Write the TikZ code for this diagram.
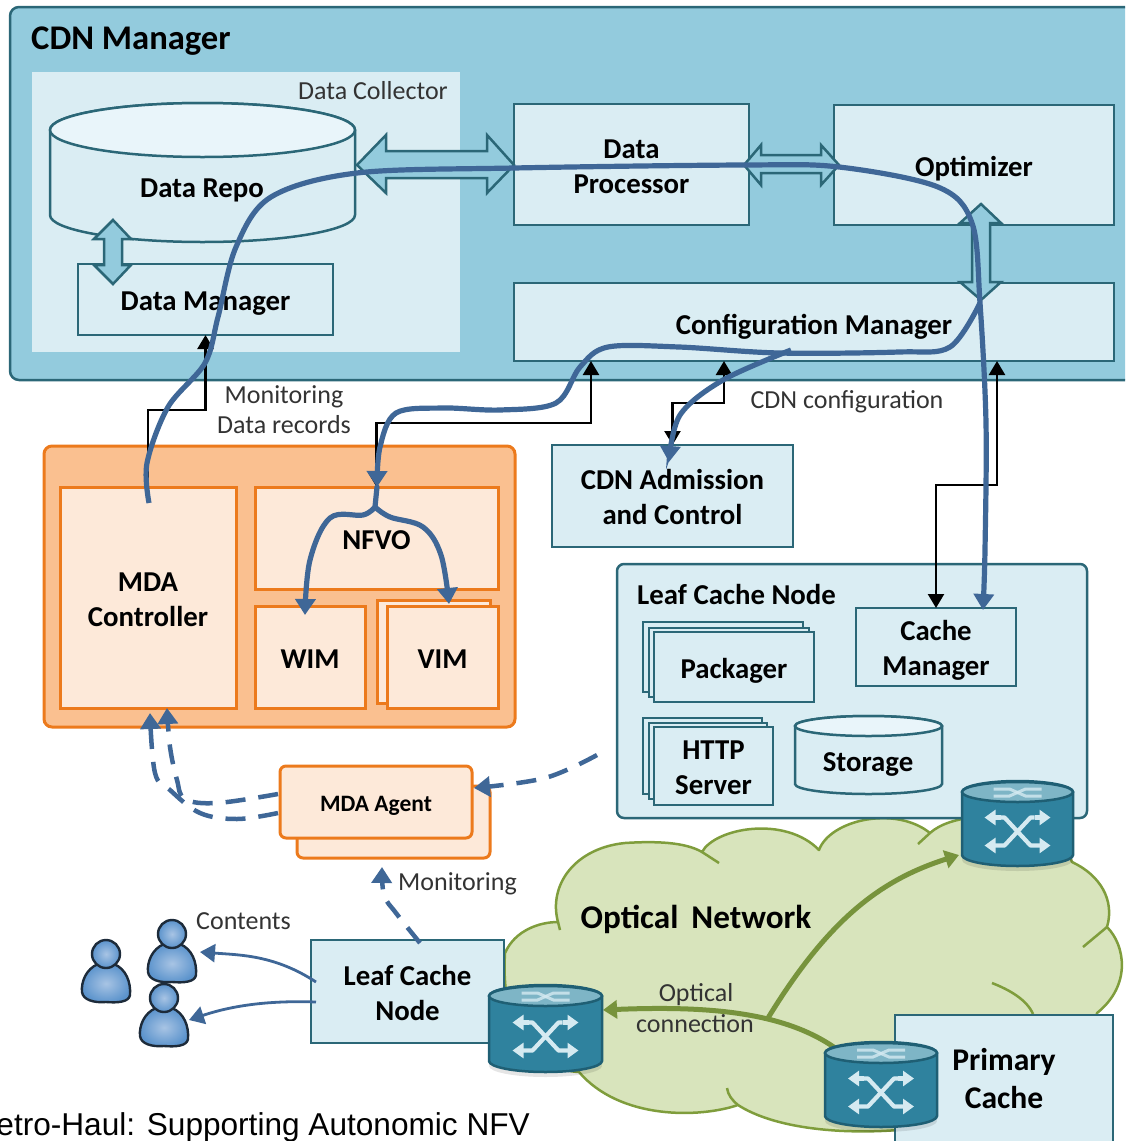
\documentclass[tikz,border=0pt]{standalone}
\usepackage{fontspec}
\setmainfont{Carlito}
\newfontfamily\capfont{Liberation Sans}
\usetikzlibrary{arrows.meta}
\definecolor{mgrbg}{HTML}{93CBDD}
\definecolor{paleblue}{HTML}{DAEDF3}
\definecolor{toppale}{HTML}{E9F5FA}
\definecolor{teal}{HTML}{2B6777}
\definecolor{orangeln}{HTML}{EC7A1C}
\definecolor{orangebg}{HTML}{FAC090}
\definecolor{orangepl}{HTML}{FDE9D9}
\definecolor{flow}{HTML}{3F6797}
\definecolor{cloudbg}{HTML}{D8E4BC}
\definecolor{cloudln}{HTML}{7F9D3C}
\definecolor{optline}{HTML}{77933C}
\definecolor{swbody}{HTML}{2F829E}
\definecolor{swtop}{HTML}{7EB5C6}
\definecolor{swline}{HTML}{1F5F74}
\definecolor{swglyph}{HTML}{D5EAF1}
\definecolor{labelgray}{HTML}{333333}
\definecolor{perin}{HTML}{A8C4E4}
\definecolor{perout}{HTML}{5B93CC}
\definecolor{perln}{HTML}{1D2B3A}
\newcommand{\dn}[1]{\raisebox{0pt}[\dimexpr\height+8pt\relax][\depth]{\begin{tabular}{@{}c@{}}#1\end{tabular}}}
\tikzset{
 x=1pt,y=-1pt,
 boldtxt/.style={font=\fontsize{28.8}{35}\selectfont\bfseries,align=center,text=black},
 lbl/.style={font=\fontsize{26}{30}\selectfont,text=labelgray,inner sep=0pt},
 tealbox/.style={draw=teal,line width=2.5pt,fill=paleblue,boldtxt,inner sep=0pt,outer sep=0pt,anchor=north west},
 orbox/.style={draw=orangeln,line width=3pt,fill=orangepl,boldtxt,inner sep=0pt,outer sep=0pt,anchor=north west},
 blockarr/.style={draw=teal,line width=2.5pt,fill=mgrbg,line join=miter},
 ctl/.style={draw=black,line width=2.4pt,-{Triangle[length=14pt,width=16pt]}},
 ctlboth/.style={draw=black,line width=2.4pt,{Triangle[length=14pt,width=16pt]}-{Triangle[length=14pt,width=16pt]}},
 flowln/.style={draw=flow,line width=5.2pt,line cap=round},
 flowarr/.style={flowln,line cap=butt,-{Triangle[length=16pt,width=20pt]}},
 dashflow/.style={draw=flow,line width=4.5pt,dash pattern=on 20pt off 13pt,-{Triangle[length=16pt,width=20pt]}},
 thinflow/.style={draw=flow,line width=2.8pt,-{Triangle[length=15pt,width=18pt]}},
 optarr/.style={draw=optline,line width=5pt,-{Triangle[length=14pt,width=18pt]}},
}
\newcommand{\cyl}[7]{%
 \pgfmathsetmacro\cylrx{(#2-#1)/2}%
 \pgfmathsetmacro\cylcx{(#2+#1)/2}%
 \filldraw[draw=#6,line width=2.5pt,fill=#7] (#1,#3) -- (#1,#4) arc[start angle=180,end angle=360,x radius=\cylrx pt,y radius=#5 pt] -- (#2,#3) arc[start angle=0,end angle=180,x radius=\cylrx pt,y radius=#5 pt] -- cycle;%
}
\newcommand{\cyltop}[6]{%
 \pgfmathsetmacro\cylrx{(#2-#1)/2}%
 \pgfmathsetmacro\cylcx{(#2+#1)/2}%
 \filldraw[draw=#5,line width=2.5pt,fill=#6] (\cylcx,#3) ellipse[x radius=\cylrx pt,y radius=#4 pt];%
}
\newcommand{\switchsym}[4]{% x1 x2 ytop-centre ybot-centre
 \fill[black,opacity=.1] ({(#1+#2)/2},{#4+5}) ellipse[x radius={(#2-#1)/2*1pt},y radius=11pt];
 \cyl{#1}{#2}{#3}{#4}{11}{swline}{swbody}
 \cyltop{#1}{#2}{#3}{10}{swline}{swtop}
 \begin{scope}[shift={({(#1+#2)/2},{(#3+#4)/2+8})},draw=swglyph,line width=4.2pt,line join=round,-{Triangle[length=11pt,width=15pt]}]
  \draw (-17,-14) -- (-13,-14) -- (13,14) -- (33,14);
  \draw (17,-14) -- (13,-14) -- (-13,14) -- (-33,14);
  \draw (17,-14) -- (33,-14);
  \draw (-17,-14) -- (-33,-14);
 \end{scope}
 \begin{scope}[shift={({(#1+#2)/2},#3)},draw=swglyph,line width=3pt,opacity=.8]
  \draw (-24,-3) -- (-8,-3) -- (8,4) -- (24,4);
  \draw (24,-3) -- (8,-3) -- (-8,4) -- (-24,4);
 \end{scope}
}
\newcommand{\personsym}[2]{%
 \begin{scope}[shift={(#1,#2)}]
  \path[draw=perln,line width=2.4pt,inner color=perin,outer color=perout]
   (-8,10) .. controls (-20,15) and (-25,28) .. (-24,38) .. controls (-23,46) and (-12,49) .. (0,48)
   .. controls (12,49) and (23,48) .. (24,41) .. controls (25,28) and (20,15) .. (8,10) -- cycle;
  \path[draw=perln,line width=2.4pt,inner color=perin,outer color=perout]
   (0,0) circle[radius=14pt];
 \end{scope}
}
\begin{document}
\begin{tikzpicture}
\useasboundingbox (0,0) rectangle (1125,1141);
\clip (0,0) rectangle (1125,1141);
% cloud
\filldraw[fill=cloudbg,draw=cloudln,line width=2.5pt,line join=round]
 (505,953) .. controls (515,930) and (540,922) .. (558,922)
 .. controls (548,885) and (575,848) .. (625,843) .. controls (655,841) and (685,842) .. (702,852)
 .. controls (715,828) and (785,815) .. (819,850)
 .. controls (830,820) and (895,805) .. (930,833)
 .. controls (950,815) and (1000,810) .. (1040,830)
 .. controls (1060,845) and (1070,855) .. (1072,862)
 .. controls (1100,875) and (1115,900) .. (1107,927)
 .. controls (1125,945) and (1132,985) .. (1097,1013)
 .. controls (1095,1060) and (1060,1100) .. (1000,1105)
 .. controls (950,1135) and (800,1145) .. (738,1105)
 .. controls (700,1118) and (620,1120) .. (579,1072)
 .. controls (540,1070) and (500,1040) .. (505,953) -- cycle;
\draw[draw=cloudln,line width=2.5pt] (558,922) -- (560,930);
\draw[draw=cloudln,line width=2.5pt] (702,852) -- (719,863);
\draw[draw=cloudln,line width=2.5pt] (930,833) -- (918,844);
\draw[draw=cloudln,line width=2.5pt] (1107,927) -- (1083,947);
\draw[draw=cloudln,line width=2.5pt] (992,983) .. controls (1010,990) and (1027,1000) .. (1033,1014);
\draw[draw=cloudln,line width=2.5pt] (727,1088) .. controls (728,1095) and (732,1100) .. (738,1105);
% CDN manager
\node[draw=teal,line width=2.5pt,fill=mgrbg,rounded corners=9pt,minimum width=1130pt,minimum height=373pt,inner sep=0pt,outer sep=0pt,anchor=north west] (mgr) at (10,7) {};
\node[font=\fontsize{34.6}{38}\selectfont\bfseries,inner sep=0pt,anchor=west] (mgrlabel) at (31,41) {CDN Manager};
\node[fill=paleblue,minimum width=428pt,minimum height=280pt,inner sep=0pt,outer sep=0pt,anchor=north west] (collector) at (32,72) {};
\node[lbl,anchor=east] (collectorlabel) at (448,91) {Data Collector};
% data repo
\cyl{50}{355}{130}{215}{27}{teal}{paleblue}
\cyltop{50}{355}{130}{27}{teal}{toppale}
\node[boldtxt,inner sep=0pt] (repo) at (202,190) {Data Repo};
\node[tealbox,minimum width=255pt,minimum height=71pt] (dm) at (78,264) {\dn{Data Manager}};
\node[tealbox,minimum width=235pt,minimum height=121pt] (dp) at (514,104) {\dn{Data\\Processor}};
\node[tealbox,minimum width=280pt,minimum height=120pt] (opt) at (834,105) {\dn{Optimizer}};
\node[tealbox,minimum width=600pt,minimum height=78pt] (cfg) at (514,283) {};
\node[boldtxt,inner sep=0pt] (cfglabel) at (814,327) {Configuration Manager};
% block arrows
\draw[blockarr] (357,165) -- (386,135) -- (386,151) -- (487,151) -- (487,135) -- (514,165) -- (487,193) -- (487,178) -- (386,178) -- (386,193) -- cycle;
\draw[blockarr] (744,165) -- (761,145) -- (761,155) -- (821,155) -- (821,145) -- (839,165) -- (821,185) -- (821,173) -- (761,173) -- (761,185) -- cycle;
\draw[blockarr] (113,220) -- (131,239) -- (122,239) -- (122,265) -- (131,265) -- (113,284) -- (94,265) -- (104,265) -- (104,239) -- (94,239) -- cycle;
\draw[blockarr] (981,204) -- (1001,223) -- (990,223) -- (990,282) -- (1001,282) -- (981,300) -- (960,282) -- (972,282) -- (972,223) -- (960,223) -- cycle;
% orange domain
\node[draw=orangeln,line width=3pt,fill=orangebg,rounded corners=8pt,minimum width=471pt,minimum height=281pt,inner sep=0pt,outer sep=0pt,anchor=north west] (mdo) at (44,446) {};
\node[orbox,minimum width=176pt,minimum height=221pt] (mda) at (60,487) {\dn{MDA\\Controller}};
\node[orbox,minimum width=243pt,minimum height=102pt] (nfvo) at (255,487) {\dn{NFVO}};
\node[orbox,minimum width=110pt,minimum height=102pt] (wim) at (255,606) {\dn{WIM}};
\node[orbox,minimum width=113pt,minimum height=103pt] (vimb) at (377,600) {};
\node[orbox,minimum width=111pt,minimum height=102pt] (vim) at (387,606) {\dn{VIM}};
% admission
\node[tealbox,minimum width=241pt,minimum height=102pt] (adm) at (552,445) {\dn{CDN Admission\\and Control}};
% leaf cache node big
\node[draw=teal,line width=2.5pt,fill=paleblue,rounded corners=7pt,minimum width=470pt,minimum height=254pt,inner sep=0pt,outer sep=0pt,anchor=north west] (lcn) at (617,564) {};
\node[boldtxt,inner sep=0pt,anchor=west] (lcnlabel) at (637,594) {Leaf Cache Node};
\node[tealbox,minimum width=160pt,minimum height=70pt] (pk1) at (643,622) {};
\node[tealbox,minimum width=160pt,minimum height=69pt] (pk2) at (649,628) {};
\node[tealbox,minimum width=160pt,minimum height=70pt] (pk3) at (654,632) {\dn{Packager}};
\node[tealbox,minimum width=160pt,minimum height=77pt] (cm) at (856,608) {\dn{Cache\\Manager}};
\node[tealbox,minimum width=119pt,minimum height=76pt] (ht1) at (643,718) {};
\node[tealbox,minimum width=118pt,minimum height=76pt] (ht2) at (649,723) {};
\node[tealbox,minimum width=119pt,minimum height=77pt] (ht3) at (654,727) {\dn{HTTP\\Server}};
\cyl{795}{942}{726}{784}{10}{teal}{paleblue}
\cyltop{795}{942}{726}{10}{teal}{toppale}
\node[boldtxt,inner sep=0pt] (storage) at (868,764) {Storage};
% MDA agent
\node[draw=orangeln,line width=3pt,fill=orangepl,rounded corners=6pt,minimum width=193pt,minimum height=72pt,inner sep=0pt,outer sep=0pt,anchor=north west] (agb) at (297,786) {};
\node[draw=orangeln,line width=3pt,fill=orangepl,rounded corners=6pt,minimum width=192pt,minimum height=72pt,inner sep=0pt,outer sep=0pt,anchor=north west,font=\fontsize{23.5}{26}\selectfont\bfseries] (ag) at (280,766) {\dn{MDA Agent}};
% small leaf cache
\node[tealbox,minimum width=193pt,minimum height=103pt] (lc) at (311,940) {\dn{Leaf Cache\\Node}};
% primary cache
\node[tealbox,minimum width=218pt,minimum height=160pt] (pc) at (895,1015) {};
\node[boldtxt,font=\fontsize{31.6}{38}\selectfont\bfseries,inner sep=0pt] (pclabel) at (1004,1079) {Primary\\Cache};
% cloud label
\node[font=\fontsize{33.2}{36}\selectfont\bfseries,inner sep=0pt] (optnet) at (696,919) {Optical\, Network};
% coordinates
\coordinate (optTip) at (959,855);
\coordinate (swL) at (603,1010);
\coordinate (swP) at (838,1050);
\coordinate (fork) at (768,1018);
% optical
\draw[optarr] (fork) .. controls (828,920) and (880,880) .. (optTip);
\draw[optarr] (swP) .. controls (790,1015) and (720,1005) .. (swL);
% switches
\switchsym{962}{1073}{792}{855}
\switchsym{489}{602}{996}{1061}
\switchsym{825}{937}{1053}{1116}
\node[lbl] (op1) at (696,995) {Optical};
\node[lbl] (op2) at (695,1024) {connection};
% black control lines
\coordinate (cfgA) at (591,361);
\coordinate (cfgB) at (724,361);
\coordinate (cfgC) at (997,361);
\draw[ctl] (mda.north) -- (148,410) -| (dm.south);
\draw[ctlboth] (nfvo.north) -- (376.5,423) -| (cfgA);
\draw[ctlboth] (adm.north) -- (672.5,403) -| (cfgB);
\draw[ctlboth] (cm.north) -- (936,485) -| (cfgC);
% labels
\node[lbl] (m1) at (284,397) {Monitoring};
\node[lbl] (m2) at (284,425) {Data records};
\node[lbl] (cdnconf) at (847,402) {CDN configuration};
\node[lbl,anchor=west] (m3) at (398,884) {Monitoring};
\node[lbl,anchor=west] (cont) at (196,921) {Contents};
% blue flows
\coordinate (mdaS) at (149,503);
\coordinate (splitA) at (980,303);
\coordinate (splitB) at (791,350);
\coordinate (fork2) at (375,507);
\coordinate (nfvoIn) at (377,487);
\coordinate (cmIn) at (983,610);
\coordinate (admIn) at (669,462);
\coordinate (wimIn) at (305,615);
\coordinate (vimIn) at (449,604);
\draw[flowarr] plot[smooth,tension=.55] coordinates {(mdaS) (147,463) (168,407) (205,363) (218,317) (236,247) (271,197) (357,173) (514,168) (744,165) (839,167) (938,187) (972,223) (splitA) (986,423) (985,550) (cmIn)};
\draw[flowarr] plot[smooth,tension=.55] coordinates {(splitA) (950,347) (899,352) (779,353) (679,347) (608,347) (580,367) (556,403) (500,410) (443,408) (396,413) (380,447) (nfvoIn)};
\draw[flowarr] plot[smooth,tension=.55] coordinates {(splitB) (723,380) (680,415) (admIn)};
\draw[flowln] (nfvoIn) -- (fork2);
\draw[flowarr] plot[smooth,tension=.6] coordinates {(fork2) (363,515) (330,518) (310,560) (wimIn)};
\draw[flowarr] plot[smooth,tension=.6] coordinates {(fork2) (390,517) (423,527) (441,555) (vimIn)};
% dashed
\coordinate (agL1) at (278,794);
\coordinate (agL2) at (278,813);
\coordinate (tipA) at (150,713);
\coordinate (tipB) at (167,708);
\coordinate (leafR) at (597,755);
\coordinate (agR) at (474,788);
\coordinate (lcTop) at (420,943);
\coordinate (monTip) at (382,867);
\draw[dashflow] plot[smooth,tension=.6] coordinates {(agL2) (237,819) (200,813) (170,790) (155,773) (tipA)};
\draw[dashflow] plot[smooth,tension=.6] coordinates {(agL1) (217,803) (185,799) (177,780) (170,747) (tipB)};
\draw[dashflow] plot[smooth,tension=.6] coordinates {(leafR) (545,778) (agR)};
\draw[dashflow] plot[smooth,tension=.6] coordinates {(lcTop) (396,913) (384,895) (monTip)};
% people
\personsym{106}{954}
\personsym{172}{934}
\personsym{164}{998}
\coordinate (lcA) at (316,982);
\coordinate (lcB) at (316,1002);
\coordinate (pA) at (200,952);
\coordinate (pB) at (189,1020);
\draw[thinflow] (lcA) .. controls (275,955) and (240,955) .. (pA);
\draw[thinflow] (lcB) .. controls (260,1000) and (225,1008) .. (pB);
% caption
\node[font=\capfont\fontsize{31.6}{36}\selectfont,inner sep=0pt,anchor=east] (caption) at (530,1127) {etro-Haul: Supporting Autonomic NFV};
\end{tikzpicture}
\end{document}
